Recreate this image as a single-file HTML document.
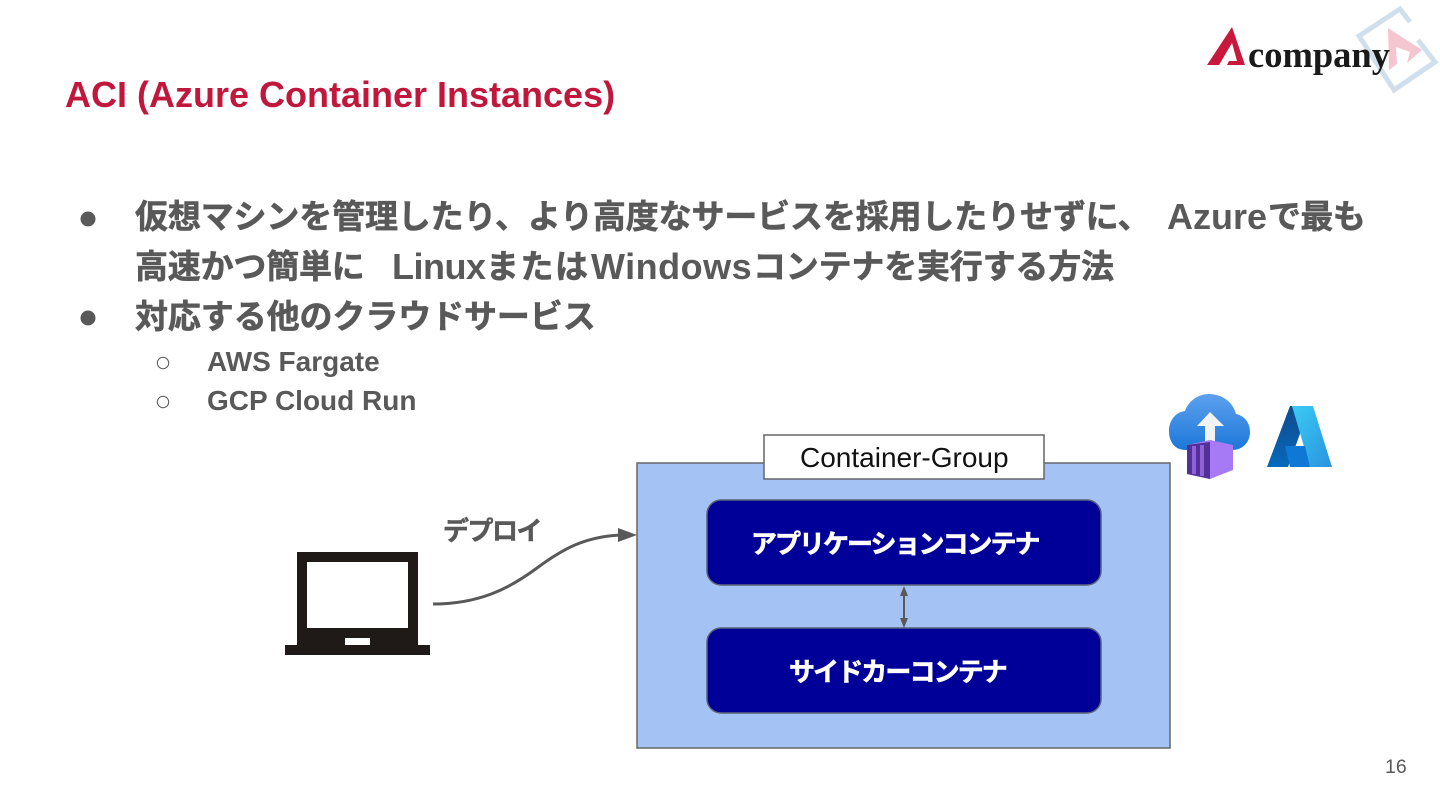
<!DOCTYPE html>
<html><head><meta charset="utf-8"><style>
html,body{margin:0;padding:0;background:#fff}
#p{position:relative;width:1440px;height:810px;overflow:hidden;background:#fff;font-family:"Liberation Sans","WenQuanYi Zen Hei","Noto Sans CJK JP",sans-serif}
.t{position:absolute;white-space:nowrap;color:#595959;font-weight:bold;line-height:1}
.b{font-size:33px;-webkit-text-stroke:.6px #595959}
.l{font-size:36px}
.s{font-size:28px;font-weight:bold}
.w{-webkit-text-stroke:.6px #fff}
</style></head><body><div id="p">
<div class="t" style="left:65px;top:77px;font-size:36px;color:#c0183c">ACI (Azure Container Instances)</div>
<div class="t b" style="left:135px;top:200px;letter-spacing:-.15px">仮想マシンを管理したり、より高度なサービスを採用したりせずに、</div>
<div class="t l" style="left:1167px;top:199px">Azure</div>
<div class="t b" style="left:1268px;top:200px;letter-spacing:-.6px">で最も</div>
<div class="t b" style="left:135px;top:250px;letter-spacing:-.2px">高速かつ簡単に</div>
<div class="t l" style="left:392px;top:249px;letter-spacing:-.5px">Linux</div>
<div class="t b" style="left:486px;top:250px;letter-spacing:1.5px">または</div>
<div class="t l" style="left:591px;top:249px;letter-spacing:.5px">Windows</div>
<div class="t b" style="left:753px;top:250px;letter-spacing:-.2px">コンテナを実行する方法</div>
<div class="t b" style="left:135px;top:300px;letter-spacing:-.1px">対応する他のクラウドサービス</div>
<div class="t s" style="left:207px;top:348px">AWS Fargate</div>
<div class="t s" style="left:207px;top:387px">GCP Cloud Run</div>

<svg style="position:absolute;left:0;top:0" width="1440" height="810" viewBox="0 0 1440 810">
<defs>
<linearGradient id="c" x1="0" y1="0" x2="0" y2="1"><stop offset="0" stop-color="#5ea0ef"/><stop offset="1" stop-color="#1b78d8"/></linearGradient>
<linearGradient id="a1" x1="0" y1="0" x2="0" y2="1"><stop offset="0" stop-color="#114a8b"/><stop offset="1" stop-color="#0669bc"/></linearGradient>
<linearGradient id="a2" x1="0" y1="0" x2="1" y2="1"><stop offset="0" stop-color="#3ccbf4"/><stop offset="1" stop-color="#2892df"/></linearGradient>
</defs>
<!-- bullets -->
<circle cx="88" cy="219" r="7.5" fill="#595959"/>
<circle cx="88" cy="318" r="7.5" fill="#595959"/>
<circle cx="163" cy="363" r="5.7" fill="none" stroke="#595959" stroke-width="1"/>
<circle cx="163" cy="402" r="5.7" fill="none" stroke="#595959" stroke-width="1"/>
<!-- logo watermark -->
<path d="M1410 22 L1400 9 L1359 36 L1394 90 L1435 62 L1418 40" fill="none" stroke="#cfe0ec" stroke-width="5"/>
<path d="M1388 28 L1422 50 L1407 63 L1410 52 L1396 47 L1397 64 L1389 70 Z" fill="#f6c6d0"/>
<path d="M1207 65 L1232 27 L1245 65 L1227 65 L1229 61 L1237 61 L1232 43 L1219 65 Z" fill="#c8183c"/>
<!-- container group -->
<rect x="637" y="463" width="533" height="285" fill="#a4c2f4" stroke="#666" stroke-width="1.5"/>
<rect x="764" y="435" width="280" height="44" fill="#fff" stroke="#666" stroke-width="1.5"/>
<rect x="707" y="500" width="394" height="85" rx="14" fill="#000099" stroke="#5a6478" stroke-width="1.5"/>
<rect x="707" y="628" width="394" height="85" rx="14" fill="#000099" stroke="#5a6478" stroke-width="1.5"/>
<!-- double arrow -->
<line x1="904" y1="594" x2="904" y2="620" stroke="#595959" stroke-width="2"/>
<path d="M904 586 L908 596 L900 596 Z M904 628 L908 618 L900 618 Z" fill="#595959"/>
<!-- curved arrow -->
<path d="M433 604 C480 604 510 588 537 568 S585 537 620 535" fill="none" stroke="#595959" stroke-width="3"/>
<path d="M637 535 L618 528 L618 542 Z" fill="#595959"/>
<!-- laptop -->
<path fill-rule="evenodd" d="M297 552 H418 V645 H430 V655 H285 V645 H297 Z M307 562 V628 H408 V562 Z M345 638 V645 H370 V638 Z" fill="#1f1a17"/>
<!-- cloud icon -->
<path d="M1186 450 C1174 450 1169 441 1169 431 C1169 420 1176 412 1185 411 C1189 400 1199 394 1209 394 C1222 394 1233 402 1236 414 C1245 416 1250 423 1250 432 C1250 442 1243 450 1232 450 Z" fill="url(#c)"/>
<path d="M1210 412 L1224 426 L1215 426 L1215 442 L1205 442 L1205 426 L1197 426 Z" fill="#f2f2f2"/>
<path d="M1187 445 L1210 440 L1233 445 L1233 470 L1210 479 L1187 474 Z" fill="#a67af4"/>
<path d="M1187 445 L1210 442 L1210 479 L1187 474 Z" fill="#552f99"/>
<path d="M1194 446 V474 M1202 445 V476" stroke="#8f63d8" stroke-width="4"/>
<!-- azure -->
<path d="M1290 406 L1267 467 L1288 467 L1310 406 Z" fill="url(#a1)"/>
<path d="M1292 406 H1313 L1332 467 H1310 Z" fill="url(#a2)"/>
<path d="M1285 446 L1305 446 L1310 467 L1290 467 Z" fill="#0f78d4"/>
</svg>

<div class="t" style="left:1248px;top:37px;font-family:'Liberation Serif',serif;font-size:36.5px;color:#1a1a1a">company</div>
<div class="t" style="left:800px;top:444px;font-size:28px;font-weight:normal;color:#111">Container-Group</div>
<div class="t" style="left:443px;top:518px;font-size:26px;letter-spacing:-1.5px;-webkit-text-stroke:.5px #595959">デプロイ</div>
<div class="t w" style="left:751px;top:531px;font-size:26px;color:#fff;letter-spacing:-2px">アプリケーションコンテナ</div>
<div class="t w" style="left:789px;top:659px;font-size:26px;color:#fff;letter-spacing:-1.9px">サイドカーコンテナ</div>
<div class="t" style="left:1385px;top:758px;font-size:19.5px;font-weight:normal">16</div>
</div></body></html>
